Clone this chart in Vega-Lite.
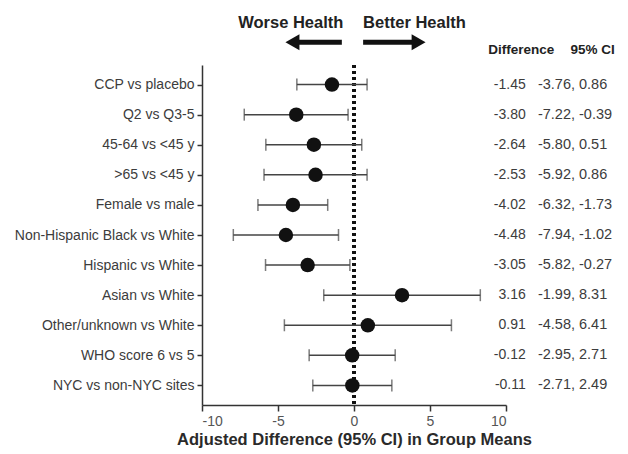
{
  "$schema": "https://vega.github.io/schema/vega-lite/v6.json",
  "padding": {"left": 14, "top": 0, "right": 3, "bottom": 3},
  "background": "white",
  "spacing": 0,
  "bounds": "flush",
  "config": {
    "font": "Liberation Sans",
    "view": {"stroke": null},
    "axis": {"labelFont": "Liberation Sans", "titleFont": "Liberation Sans"}
  },
  "datasets": {
    "rows": [
      {"label": "CCP vs placebo", "est": -1.45, "diff": "-1.45", "lo": -3.76, "hi": 0.86, "ci": "-3.76, 0.86"},
      {"label": "Q2 vs Q3-5", "est": -3.80, "diff": "-3.80", "lo": -7.22, "hi": -0.39, "ci": "-7.22, -0.39"},
      {"label": "45-64 vs <45 y", "est": -2.64, "diff": "-2.64", "lo": -5.80, "hi": 0.51, "ci": "-5.80, 0.51"},
      {"label": ">65 vs <45 y", "est": -2.53, "diff": "-2.53", "lo": -5.92, "hi": 0.86, "ci": "-5.92, 0.86"},
      {"label": "Female vs male", "est": -4.02, "diff": "-4.02", "lo": -6.32, "hi": -1.73, "ci": "-6.32, -1.73"},
      {"label": "Non-Hispanic Black vs White", "est": -4.48, "diff": "-4.48", "lo": -7.94, "hi": -1.02, "ci": "-7.94, -1.02"},
      {"label": "Hispanic vs White", "est": -3.05, "diff": "-3.05", "lo": -5.82, "hi": -0.27, "ci": "-5.82, -0.27"},
      {"label": "Asian vs White", "est": 3.16, "diff": "3.16", "lo": -1.99, "hi": 8.31, "ci": "-1.99, 8.31"},
      {"label": "Other/unknown vs White", "est": 0.91, "diff": "0.91", "lo": -4.58, "hi": 6.41, "ci": "-4.58, 6.41"},
      {"label": "WHO score 6 vs 5", "est": -0.12, "diff": "-0.12", "lo": -2.95, "hi": 2.71, "ci": "-2.95, 2.71"},
      {"label": "NYC vs non-NYC sites", "est": -0.11, "diff": "-0.11", "lo": -2.71, "hi": 2.49, "ci": "-2.71, 2.49"}
    ],
    "head": [
      {"text": "Worse Health", "x": -0.7, "level": 3.5, "kind": "left"},
      {"text": "Better Health", "x": 0.6, "level": 3.5, "kind": "right"}
    ],
    "arrows": [
      {"x1": -0.8, "x2": -3.8, "tip": -4.05, "level": 6.5, "shape": "triangle-left"},
      {"x1": 0.6, "x2": 4.0, "tip": 4.25, "level": 6.5, "shape": "triangle-right"}
    ],
    "cols": [
      {"text": "Difference", "x": 11.0, "level": 7.7},
      {"text": "95% CI", "x": 15.7, "level": 7.7}
    ]
  },
  "vconcat": [
    {
      "width": 304,
      "height": 65,
      "layer": [
        {
          "data": {"name": "head"},
          "transform": [{"filter": "datum.kind == 'left'"}],
          "mark": {"type": "text", "align": "right", "baseline": "middle", "fontSize": 16.5, "fontWeight": "bold", "color": "#222"},
          "encoding": {
            "x": {"field": "x", "type": "quantitative", "scale": {"domain": [-10, 10]}, "axis": null},
            "y": {"field": "level", "type": "quantitative", "scale": {"domain": [0, 10], "reverse": true}, "axis": null},
            "text": {"field": "text"}
          }
        },
        {
          "data": {"name": "head"},
          "transform": [{"filter": "datum.kind == 'right'"}],
          "mark": {"type": "text", "align": "left", "baseline": "middle", "fontSize": 16.5, "fontWeight": "bold", "color": "#222"},
          "encoding": {
            "x": {"field": "x", "type": "quantitative"},
            "y": {"field": "level", "type": "quantitative"},
            "text": {"field": "text"}
          }
        },
        {
          "data": {"name": "arrows"},
          "mark": {"type": "rule", "strokeWidth": 5, "color": "#111"},
          "encoding": {
            "x": {"field": "x1", "type": "quantitative"},
            "x2": {"field": "x2"},
            "y": {"field": "level", "type": "quantitative"}
          }
        },
        {
          "data": {"name": "arrows"},
          "mark": {"type": "point", "filled": true, "size": 260, "color": "#111", "opacity": 1},
          "encoding": {
            "x": {"field": "tip", "type": "quantitative"},
            "y": {"field": "level", "type": "quantitative"},
            "shape": {"field": "shape", "type": "nominal", "scale": null, "legend": null}
          }
        },
        {
          "data": {"name": "cols"},
          "mark": {"type": "text", "align": "center", "baseline": "middle", "fontSize": 13.5, "fontWeight": "bold", "color": "#222"},
          "encoding": {
            "x": {"field": "x", "type": "quantitative"},
            "y": {"field": "level", "type": "quantitative"},
            "text": {"field": "text"}
          }
        }
      ]
    },
    {
      "width": 304,
      "height": 340,
      "data": {"name": "rows"},
      "encoding": {
        "y": {
          "field": "label", "type": "nominal", "sort": null,
          "scale": {"type": "point", "padding": 0.65},
          "axis": {"title": null, "labelFontSize": 14, "labelColor": "#3c3c3c", "domainColor": "#333", "domainWidth": 1.5, "tickColor": "#333", "tickWidth": 1.5, "tickSize": 5, "labelPadding": 3}
        }
      },
      "layer": [
        {
          "mark": {"type": "rule", "strokeDash": [2.5, 3.5], "strokeWidth": 3, "color": "#111"},
          "encoding": {"x": {"datum": 0, "type": "quantitative"}, "y": null}
        },
        {
          "mark": {"type": "rule", "strokeWidth": 1.5, "color": "#444"},
          "encoding": {
            "x": {
              "field": "lo", "type": "quantitative",
              "scale": {"domain": [-10, 10]},
              "axis": {"values": [-10, -5, 0, 5, 10], "labelExpr": "replace(datum.label, '\u2212', '-')", "grid": false, "title": "Adjusted Difference (95% CI) in Group Means", "titleFontSize": 16.5, "titleFontWeight": "bold", "titleColor": "#2a2a2a", "titlePadding": 3, "labelFontSize": 14, "labelColor": "#555", "domainColor": "#333", "domainWidth": 1.5, "tickColor": "#333", "tickWidth": 1.5, "tickSize": 6, "labelPadding": 3}
            },
            "x2": {"field": "hi"}
          }
        },
        {
          "mark": {"type": "tick", "orient": "vertical", "size": 12, "thickness": 1.5, "color": "#444"},
          "encoding": {"x": {"field": "lo", "type": "quantitative"}}
        },
        {
          "mark": {"type": "tick", "orient": "vertical", "size": 12, "thickness": 1.5, "color": "#444"},
          "encoding": {"x": {"field": "hi", "type": "quantitative"}}
        },
        {
          "mark": {"type": "circle", "size": 210, "color": "#111", "opacity": 1},
          "encoding": {"x": {"field": "est", "type": "quantitative"}}
        },
        {
          "mark": {"type": "text", "align": "right", "baseline": "middle", "fontSize": 14, "color": "#3c3c3c"},
          "encoding": {
            "x": {"datum": 11.3, "type": "quantitative"},
            "text": {"field": "diff", "type": "nominal"}
          }
        },
        {
          "mark": {"type": "text", "align": "left", "baseline": "middle", "fontSize": 14.5, "color": "#3c3c3c"},
          "encoding": {
            "x": {"datum": 12.1, "type": "quantitative"},
            "text": {"field": "ci", "type": "nominal"}
          }
        }
      ]
    }
  ]
}
